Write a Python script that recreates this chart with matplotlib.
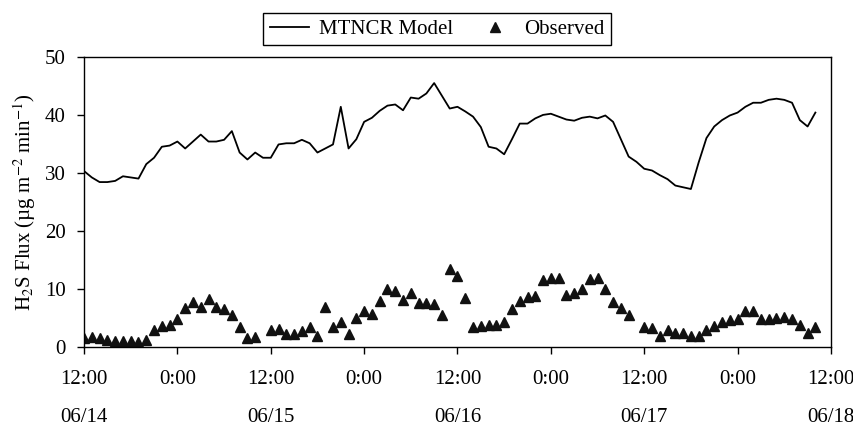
import numpy as np
import matplotlib
matplotlib.use("Agg")
import matplotlib.pyplot as plt

# hourly values starting 06/14 12:00
hours = np.arange(95)

model = [30.3, 29.2, 28.4, 28.4, 28.6, 29.4, 29.2, 29.0, 31.5, 32.6,
         34.5, 34.7, 35.4, 34.2, 35.4, 36.6, 35.4, 35.4, 35.7, 37.2,
         33.5, 32.3, 33.5, 32.6, 32.6, 34.9, 35.1, 35.1, 35.7, 35.1,
         33.5, 34.2, 34.9, 41.4, 34.2, 35.8, 38.8, 39.5, 40.7, 41.6,
         41.8, 40.8, 43.0, 42.8, 43.7, 45.5, 43.3, 41.1, 41.4, 40.6,
         39.7, 37.9, 34.5, 34.2, 33.2, 35.8, 38.5, 38.5, 39.4, 40.0,
         40.2, 39.7, 39.2, 39.0, 39.5, 39.7, 39.4, 39.9, 38.8, 35.8,
         32.8, 31.9, 30.7, 30.4, 29.6, 28.9, 27.8, 27.5, 27.2, 31.8,
         36.0, 38.0, 39.1, 39.9, 40.4, 41.4, 42.1, 42.1, 42.6, 42.8,
         42.6, 42.1, 39.1, 38.0, 40.4]

observed = [1.4, 1.7, 1.5, 1.2, 1.0, 1.0, 1.0, 0.8, 1.2, 2.8,
            3.5, 3.7, 4.7, 6.6, 7.7, 6.9, 8.2, 6.9, 6.4, 5.4,
            3.3, 1.5, 1.7, np.nan, 2.8, 3.1, 2.1, 2.1, 2.6, 3.3,
            1.8, 6.9, 3.3, 4.3, 2.1, 5.0, 6.2, 5.7, 7.9, 9.9,
            9.6, 8.0, 9.3, 7.6, 7.6, 7.3, 5.4, 13.3, 12.1, 8.3,
            3.3, 3.5, 3.7, 3.7, 4.3, 6.4, 7.9, 8.6, 8.7, 11.5,
            11.9, 11.9, 8.9, 9.3, 10.0, 11.7, 11.9, 9.9, 7.7, 6.6,
            5.4, np.nan, 3.4, 3.2, 1.8, 2.8, 2.3, 2.3, 1.8, 1.8,
            2.8, 3.5, 4.3, 4.6, 4.7, 6.2, 6.2, 4.7, 4.7, 5.0,
            5.1, 4.7, 3.7, 2.4, 3.3]

tick_hours = [0, 12, 24, 36, 48, 60, 72, 84, 96]
time_labels = ["12:00", "0:00", "12:00", "0:00", "12:00", "0:00", "12:00", "0:00", "12:00"]
date_labels = ["06/14", "", "06/15", "", "06/16", "", "06/17", "", "06/18"]

plt.rcParams["font.family"] = ["Liberation Serif", "DejaVu Serif"]
plt.rcParams["mathtext.fontset"] = "stix"
plt.rcParams["font.size"] = 15

fig = plt.figure(figsize=(8.54, 4.26), dpi=100)
ax = fig.add_axes([0.0984, 0.1866, 0.8746, 0.6796])

ax.plot(hours, model, color="black", lw=1.3, label="MTNCR Model")
ax.plot(hours, observed, linestyle="none", marker="^", markersize=7,
        color="#111111", label="Observed")

ax.set_xlim(0, 96)
ax.set_ylim(0, 50)
ax.set_yticks(range(0, 51, 10))
ax.set_xticks(tick_hours)
labels = [t if d == "" else t + "\n" + d for t, d in zip(time_labels, date_labels)]
ax.set_xticklabels(labels)
for lab in ax.get_xticklabels():
    lab.set_linespacing(2.35)

ax.tick_params(axis="x", direction="out", length=5, width=1, pad=12)
ax.tick_params(axis="y", direction="out", length=5, width=1, pad=8)
for s in ax.spines.values():
    s.set_linewidth(1.0)

ax.set_ylabel("H$_2$S Flux (µg m$^{-2}$ min$^{-1}$)", labelpad=5)

leg = fig.legend(loc="center", bbox_to_anchor=(0.512, 0.931), ncol=2,
                 frameon=True, fancybox=False, framealpha=1, edgecolor="black",
                 numpoints=1, handlelength=1.9, handletextpad=0.45,
                 columnspacing=1.1, borderpad=0.3, fontsize=15)
leg.get_frame().set_linewidth(1.0)

fig.savefig("out.png", dpi=100)
